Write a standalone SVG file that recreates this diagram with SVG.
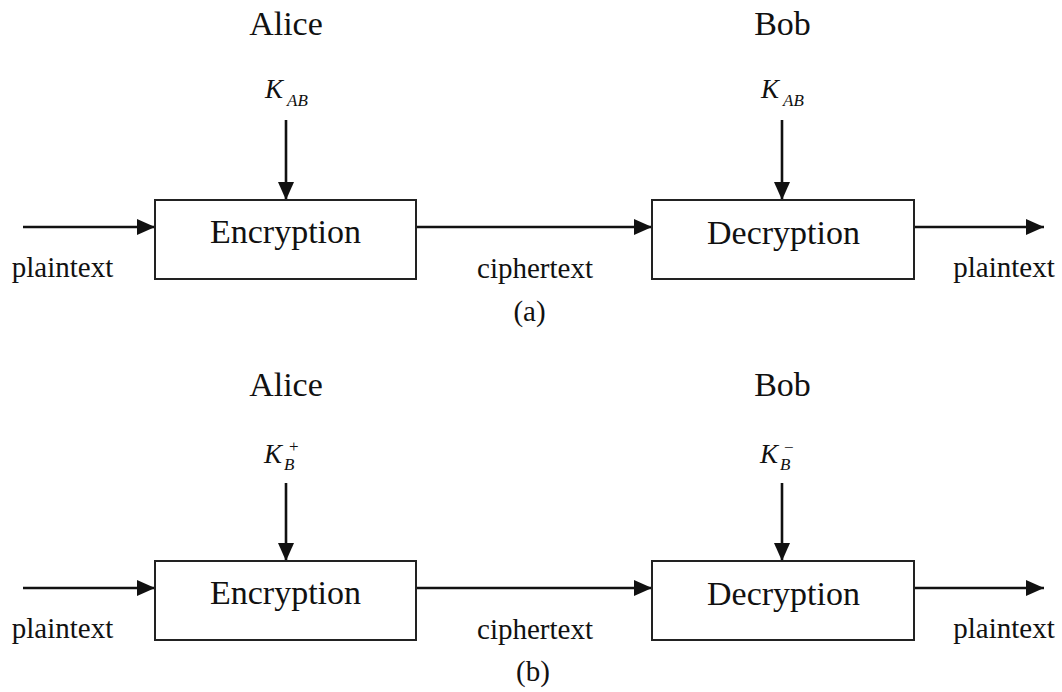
<svg xmlns="http://www.w3.org/2000/svg" width="1062" height="692" viewBox="0 0 1062 692">
  <style>
    text { fill: #111; font-family: "Liberation Serif", "DejaVu Serif", serif; }
    .who { font-size: 34px; text-anchor: middle; }
    .box { fill: #fff; stroke: #222; stroke-width: 2; }
    .boxlabel { font-size: 34px; text-anchor: middle; }
    .lbl { font-size: 29px; text-anchor: middle; }
    .key { font-size: 27px; font-style: italic; }
    .sub { font-size: 17px; font-style: italic; }
    .sup { font-size: 17px; }
    .wire { stroke: #111; stroke-width: 2.6; fill: none; marker-end: url(#head); }
  </style>
  <defs>
    <marker id="head" markerUnits="userSpaceOnUse" markerWidth="18" markerHeight="16" refX="18" refY="8" orient="auto">
      <path d="M0,0 L18,8 L0,16 z" fill="#111"/>
    </marker>
  </defs>
  <rect width="1062" height="692" fill="#fff"/>

  <!-- connectors -->
  <g id="connectors">
    <!-- symmetric key scheme -->
    <line class="wire" x1="23" y1="227" x2="155" y2="227"/>
    <line class="wire" x1="416" y1="227" x2="652" y2="227"/>
    <line class="wire" x1="914" y1="227" x2="1044" y2="227"/>
    <line class="wire" x1="286" y1="120" x2="286" y2="200"/>
    <line class="wire" x1="782" y1="120" x2="782" y2="200"/>
    <!-- public key scheme -->
    <line class="wire" x1="23" y1="588" x2="155" y2="588"/>
    <line class="wire" x1="416" y1="588" x2="652" y2="588"/>
    <line class="wire" x1="914" y1="588" x2="1044" y2="588"/>
    <line class="wire" x1="286" y1="483" x2="286" y2="561"/>
    <line class="wire" x1="782" y1="483" x2="782" y2="561"/>
  </g>

  <!-- (a) shared secret key -->
  <g id="a-alice"><text class="who" x="286" y="35">Alice</text></g>
  <g id="a-bob"><text class="who" x="782.5" y="35">Bob</text></g>
  <g id="a-key-alice">
    <text class="key" x="265" y="98">K</text>
    <text class="sub" x="287" y="106">AB</text>
  </g>
  <g id="a-key-bob">
    <text class="key" x="761" y="98">K</text>
    <text class="sub" x="783" y="106">AB</text>
  </g>
  <g id="a-encryption">
    <rect class="box" x="155" y="200" width="261" height="79"/>
    <text class="boxlabel" x="285.5" y="243">Encryption</text>
  </g>
  <g id="a-decryption">
    <rect class="box" x="652" y="200" width="262" height="79"/>
    <text class="boxlabel" x="783.5" y="244">Decryption</text>
  </g>
  <g id="a-labels">
    <text class="lbl" x="62.5" y="277">plaintext</text>
    <text class="lbl" x="535" y="278">ciphertext</text>
    <text class="lbl" x="1004" y="277">plaintext</text>
    <text class="lbl" x="529.5" y="321">(a)</text>
  </g>

  <!-- (b) public / private key -->
  <g id="b-alice"><text class="who" x="286" y="396">Alice</text></g>
  <g id="b-bob"><text class="who" x="782.5" y="396">Bob</text></g>
  <g id="b-key-alice">
    <text class="key" x="264" y="463">K</text>
    <text class="sub" x="284" y="470">B</text>
    <text class="sup" x="289" y="452">+</text>
  </g>
  <g id="b-key-bob">
    <text class="key" x="760" y="463">K</text>
    <text class="sub" x="780" y="470">B</text>
    <text class="sup" x="784" y="453">−</text>
  </g>
  <g id="b-encryption">
    <rect class="box" x="155" y="561" width="261" height="79"/>
    <text class="boxlabel" x="285.5" y="604">Encryption</text>
  </g>
  <g id="b-decryption">
    <rect class="box" x="652" y="561" width="262" height="79"/>
    <text class="boxlabel" x="783.5" y="605">Decryption</text>
  </g>
  <g id="b-labels">
    <text class="lbl" x="62.5" y="638">plaintext</text>
    <text class="lbl" x="535" y="639">ciphertext</text>
    <text class="lbl" x="1004" y="638">plaintext</text>
    <text class="lbl" x="533" y="681">(b)</text>
  </g>
</svg>
